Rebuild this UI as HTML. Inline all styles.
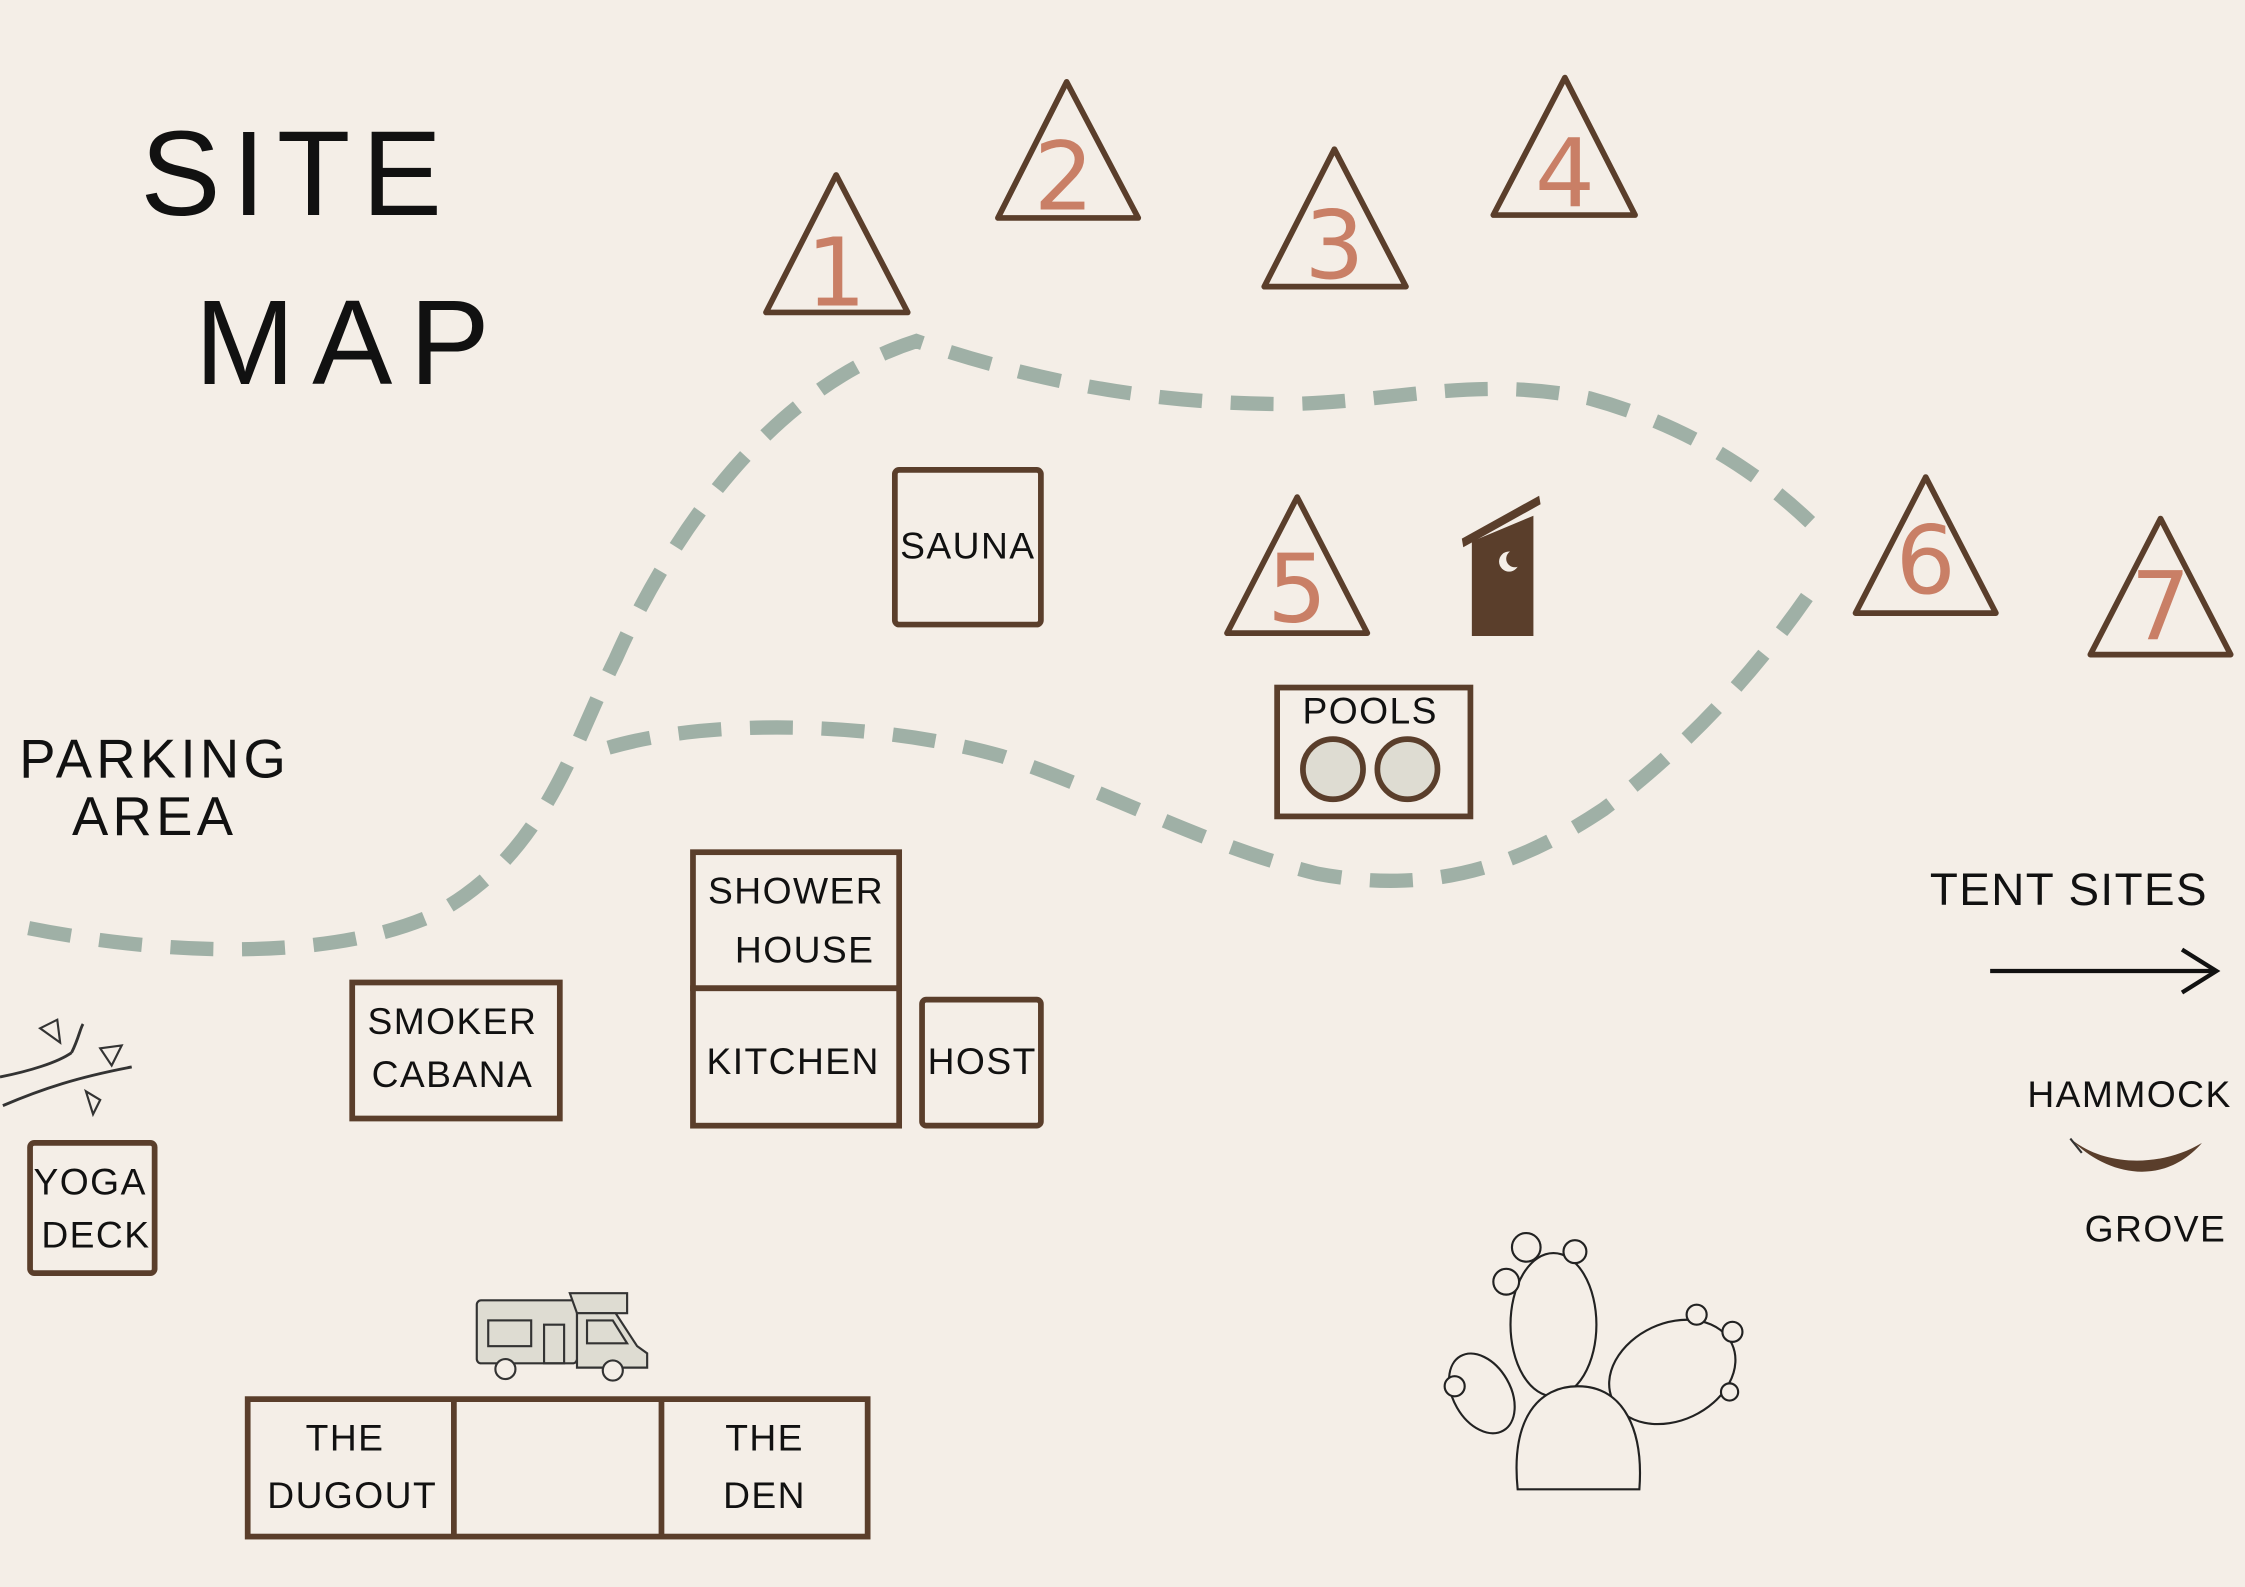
<!DOCTYPE html>
<html><head><meta charset="utf-8"><style>
html,body{margin:0;padding:0;background:#f4eee7;}
svg{display:block}
text{font-family:"Liberation Sans",sans-serif;fill:#111;}
.b{fill:none;stroke:#5a3e2b;stroke-width:4;}
.t{fill:none;stroke:#5a3e2b;stroke-width:4;stroke-linejoin:round;}
.n{fill:#c97f66;font-size:66px;text-anchor:middle;font-family:"DejaVu Sans",sans-serif;}
.l{font-size:26px;text-anchor:middle;letter-spacing:1px}
.d{fill:none;stroke:#9fb0a6;stroke-width:10;stroke-dasharray:30 20;}
.c{fill:#f4eee7;stroke:#222;stroke-width:1.5}
</style></head><body>
<svg width="2245" height="1587" viewBox="0 0 1568 1108" xmlns="http://www.w3.org/2000/svg">
<rect width="1568" height="1108" fill="#f4eee7"/>
<text x="98" y="150" font-size="84" letter-spacing="8">SITE</text>
<text x="136" y="268" font-size="84" letter-spacing="12">MAP</text>
<text x="108" y="543" font-size="38" text-anchor="middle" letter-spacing="3">PARKING</text>
<text x="108" y="583" font-size="38" text-anchor="middle" letter-spacing="3">AREA</text>
<path class="d" d="M20,648 C120,668 230,670 300,640 C380,600 400,520 430,460 C470,370 540,270 640,238 C720,265 800,282 900,282 C980,280 1030,262 1110,278 C1190,300 1240,340 1272,372"/>
<path class="d" d="M425,522 C500,500 620,505 700,528 C780,555 840,590 920,610 C1000,625 1060,605 1120,565 C1180,520 1230,465 1270,405"/>
<g class="t">
<path d="M584,122 L535,218 L634,218 Z"/>
<path d="M745,57 L697,152 L795,152 Z"/>
<path d="M932,104 L883,200 L982,200 Z"/>
<path d="M1093,54 L1043,150 L1142,150 Z"/>
<path d="M906,347 L857,442 L955,442 Z"/>
<path d="M1345,333 L1296,428 L1394,428 Z"/>
<path d="M1509,362 L1460,457 L1558,457 Z"/>
</g>
<text class="n" x="584" y="213">1</text>
<text class="n" x="743" y="146">2</text>
<text class="n" x="932" y="194">3</text>
<text class="n" x="1093" y="144">4</text>
<text class="n" x="906" y="434">5</text>
<text class="n" x="1345" y="414">6</text>
<text class="n" x="1509" y="446">7</text>
<rect class="b" x="625" y="328" width="102" height="108" rx="3"/>
<text class="l" x="676" y="390">SAUNA</text>
<rect class="b" x="892" y="480" width="135" height="90"/>
<text class="l" x="957" y="505">POOLS</text>
<circle cx="931" cy="537" r="21" fill="#dedcd2" stroke="#5a3e2b" stroke-width="4"/>
<circle cx="983" cy="537" r="21" fill="#dedcd2" stroke="#5a3e2b" stroke-width="4"/>
<path d="M1028,378 L1028,444 L1071,444 L1071,360 Z" fill="#5a3e2b"/>
<path d="M1021,376 L1075,346 L1076,352 L1022,382 Z" fill="#5a3e2b"/>
<circle cx="1054" cy="392" r="7" fill="#f4eee7"/><circle cx="1058" cy="390" r="6" fill="#5a3e2b"/>
<rect class="b" x="484" y="595" width="144" height="95"/>
<text class="l" x="556" y="631">SHOWER</text>
<text class="l" x="562" y="672">HOUSE</text>
<rect class="b" x="484" y="690" width="144" height="96"/>
<text class="l" x="554" y="750">KITCHEN</text>
<rect class="b" x="644" y="698" width="83" height="88" rx="3"/>
<text class="l" x="686" y="750">HOST</text>
<rect class="b" x="246" y="686" width="145" height="95"/>
<text class="l" x="316" y="722">SMOKER</text>
<text class="l" x="316" y="759">CABANA</text>
<rect class="b" x="21" y="798" width="87" height="91" rx="3"/>
<text class="l" x="63" y="834">YOGA</text>
<text class="l" x="67" y="871">DECK</text>
<rect class="b" x="173" y="977" width="433" height="96"/>
<line class="b" x1="317" y1="977" x2="317" y2="1073"/>
<line class="b" x1="462" y1="977" x2="462" y2="1073"/>
<text class="l" x="241" y="1013">THE</text>
<text class="l" x="246" y="1053">DUGOUT</text>
<text class="l" x="534" y="1013">THE</text>
<text class="l" x="534" y="1053">DEN</text>
<text x="1445" y="632" font-size="32" text-anchor="middle" letter-spacing="1">TENT SITES</text>
<line x1="1390" y1="678" x2="1548" y2="678" stroke="#111" stroke-width="3"/>
<path d="M1524,663 L1548,678 L1524,693" fill="none" stroke="#111" stroke-width="3"/>
<text x="1416" y="773" font-size="26" letter-spacing="1">HAMMOCK</text>
<text x="1456" y="867" font-size="26" letter-spacing="1">GROVE</text>
<path d="M1446,795 C1470,820 1510,830 1538,798 C1510,815 1470,815 1446,795 Z" fill="#5a3e2b"/>
<line x1="1446" y1="795" x2="1454" y2="805" stroke="#333" stroke-width="1.5"/>
<path d="M0,752 C20,748 40,742 50,735 M2,772 C30,760 55,752 92,745 M50,735 C55,725 56,718 58,715" fill="none" stroke="#333" stroke-width="2"/>
<path d="M28,718 L40,712 L42,728 Z M70,732 L85,730 L78,744 Z M60,762 L70,768 L65,778 Z" fill="none" stroke="#333" stroke-width="1.5"/>
<g fill="none" stroke="#333" stroke-width="1.5">
<rect x="333" y="908" width="70" height="44" rx="3" fill="#dedcd2"/>
<path d="M398,903 L438,903 L438,917 L403,917 Z" fill="#dedcd2"/>
<path d="M403,917 L430,917 L445,940 L452,945 L452,955 L403,955 Z" fill="#dedcd2"/>
<rect x="341" y="922" width="30" height="18"/><rect x="380" y="925" width="14" height="27"/>
<path d="M410,922 L428,922 L438,938 L410,938 Z"/>
<circle cx="353" cy="956" r="7" fill="#f4eee7"/><circle cx="428" cy="957" r="7" fill="#f4eee7"/>
</g>
<g>
<ellipse class="c" cx="1035" cy="973" rx="20" ry="30" transform="rotate(-30 1035 973)"/>
<ellipse class="c" cx="1168" cy="958" rx="46" ry="34" transform="rotate(-25 1168 958)"/>
<ellipse class="c" cx="1085" cy="925" rx="30" ry="50"/>
<path class="c" d="M1060,1040 C1055,990 1075,968 1102,968 C1135,968 1148,1000 1145,1040 Z"/>
<circle class="c" cx="1066" cy="871" r="10"/><circle class="c" cx="1100" cy="874" r="8"/>
<circle class="c" cx="1052" cy="895" r="9"/><circle class="c" cx="1016" cy="968" r="7"/>
<circle class="c" cx="1185" cy="918" r="7"/><circle class="c" cx="1210" cy="930" r="7"/>
<circle class="c" cx="1208" cy="972" r="6"/>
</g>
</svg>
</body></html>
